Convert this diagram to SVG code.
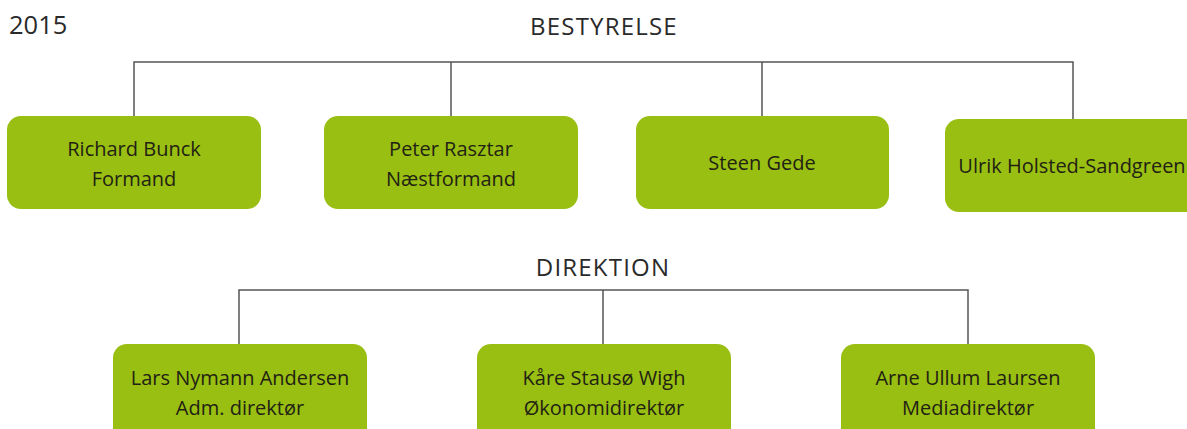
<svg xmlns="http://www.w3.org/2000/svg" width="1187" height="429" viewBox="0 0 1187 429">
<style>
.box{fill:#99bf12}
.t{font-family:"Open Sans","Liberation Sans",sans-serif;font-size:20px;fill:#222214;text-anchor:middle}
.h{font-family:"Open Sans","Liberation Sans",sans-serif;font-size:24px;fill:#2a2a2a;text-anchor:middle;letter-spacing:1.2px}
.c{fill:none;stroke:#555;stroke-width:1.5}
</style>
<rect width="1187" height="429" fill="#fff"/>
<text x="9" y="34" font-family="Open Sans, Liberation Sans, sans-serif" font-size="25.5" fill="#2a2a2a">2015</text>
<text class="h" x="604" y="35">BESTYRELSE</text>
<text class="h" x="603" y="276">DIREKTION</text>
<g id="connectors">
<path class="c" d="M134,116 V62 H1073 V119 M451,62 V116 M762,62 V116"/>
<path class="c" d="M239,344 V290 H968 V344 M603,290 V344"/>
</g>
<g id="n1"><rect class="box" x="7" y="116" width="254" height="93" rx="14"/><text class="t" x="134" y="156">Richard Bunck</text><text class="t" x="134" y="186">Formand</text></g>
<g id="n2"><rect class="box" x="324" y="116" width="254" height="93" rx="14"/><text class="t" x="451" y="156">Peter Rasztar</text><text class="t" x="451" y="186">Næstformand</text></g>
<g id="n3"><rect class="box" x="636" y="116" width="253" height="93" rx="14"/><text class="t" x="762" y="170">Steen Gede</text></g>
<g id="n4"><rect class="box" x="945" y="119" width="260" height="93" rx="14"/><text class="t" x="1072" y="173">Ulrik Holsted-Sandgreen</text></g>
<g id="n5"><rect class="box" x="113" y="344" width="254" height="100" rx="14"/><text class="t" x="240" y="385">Lars Nymann Andersen</text><text class="t" x="240" y="415">Adm. direktør</text></g>
<g id="n6"><rect class="box" x="477" y="344" width="254" height="100" rx="14"/><text class="t" x="604" y="385">Kåre Stausø Wigh</text><text class="t" x="604" y="415">Økonomidirektør</text></g>
<g id="n7"><rect class="box" x="841" y="344" width="254" height="100" rx="14"/><text class="t" x="968" y="385">Arne Ullum Laursen</text><text class="t" x="968" y="415">Mediadirektør</text></g>
</svg>
